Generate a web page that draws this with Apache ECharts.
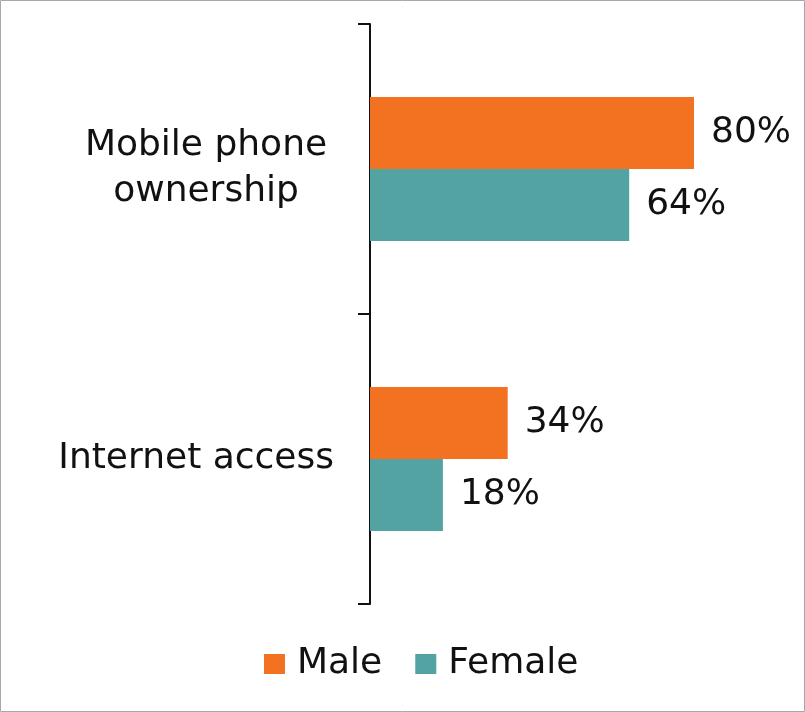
<!DOCTYPE html>
<html>
<head>
<meta charset="utf-8">
<script src="https://cdn.jsdelivr.net/npm/echarts@6/dist/echarts.min.js"></script>
<style>
  html, body { margin: 0; padding: 0; background: #fff; }
  #chart { width: 805px; height: 712px; }
</style>
</head>
<body>
<div id="chart"></div>
<script>
// Access indicators by gender (percent)
const categories = ['Mobile phone\nownership', 'Internet access'];
const maleValues = [80, 34];
const femaleValues = [64, 18];
const seriesNames = ['Male', 'Female'];

const FONT = 'DejaVu Sans';
const chart = echarts.init(document.getElementById('chart'));

const labelStyle = {
  show: true,
  position: 'right',
  distance: 17,
  formatter: p => p.value + '%',
  color: '#111',
  fontFamily: FONT,
  fontSize: 36
};

// Two-line category names are centred on each other inside a fixed-width block
const wrapCategory = name => name.indexOf('\n') >= 0
  ? name.split('\n').map(line => '{c|' + line + '}').join('\n')
  : name;

chart.setOption({
  animation: false,
  backgroundColor: '#fff',
  graphic: [{
    type: 'rect',
    shape: { x: 0.5, y: 0.5, width: 804, height: 711 },
    style: { fill: 'none', stroke: '#a8a8a8', lineWidth: 1 },
    silent: true
  }],
  grid: { left: 370, right: 30, top: 24, bottom: 108, containLabel: false },
  legend: {
    data: seriesNames,
    left: 259,
    top: 641,
    padding: 5,
    icon: 'rect',
    itemWidth: 21,
    itemHeight: 20,
    itemGap: 33,
    textStyle: { fontFamily: FONT, fontSize: 36, color: '#111', padding: [0, 0, 0, 7] }
  },
  xAxis: {
    type: 'value',
    min: 0,
    max: 100,
    show: false
  },
  yAxis: {
    type: 'category',
    inverse: true,
    data: categories,
    axisLine: { show: true, lineStyle: { color: '#111', width: 2 } },
    axisTick: { show: true, length: 12, lineStyle: { color: '#111', width: 2 } },
    axisLabel: {
      margin: 36,
      color: '#111',
      fontFamily: FONT,
      fontSize: 36,
      lineHeight: 46,
      align: 'right',
      formatter: wrapCategory,
      rich: {
        c: {
          width: 256,
          align: 'center',
          color: '#111',
          fontFamily: FONT,
          fontSize: 36,
          lineHeight: 46
        }
      }
    }
  },
  series: [
    {
      name: seriesNames[0],
      type: 'bar',
      data: maleValues,
      barWidth: 72,
      barGap: '0%',
      itemStyle: { color: '#F37221' },
      label: labelStyle
    },
    {
      name: seriesNames[1],
      type: 'bar',
      data: femaleValues,
      barWidth: 72,
      barGap: '0%',
      itemStyle: { color: '#52A3A2' },
      label: labelStyle
    }
  ]
});
</script>
</body>
</html>
